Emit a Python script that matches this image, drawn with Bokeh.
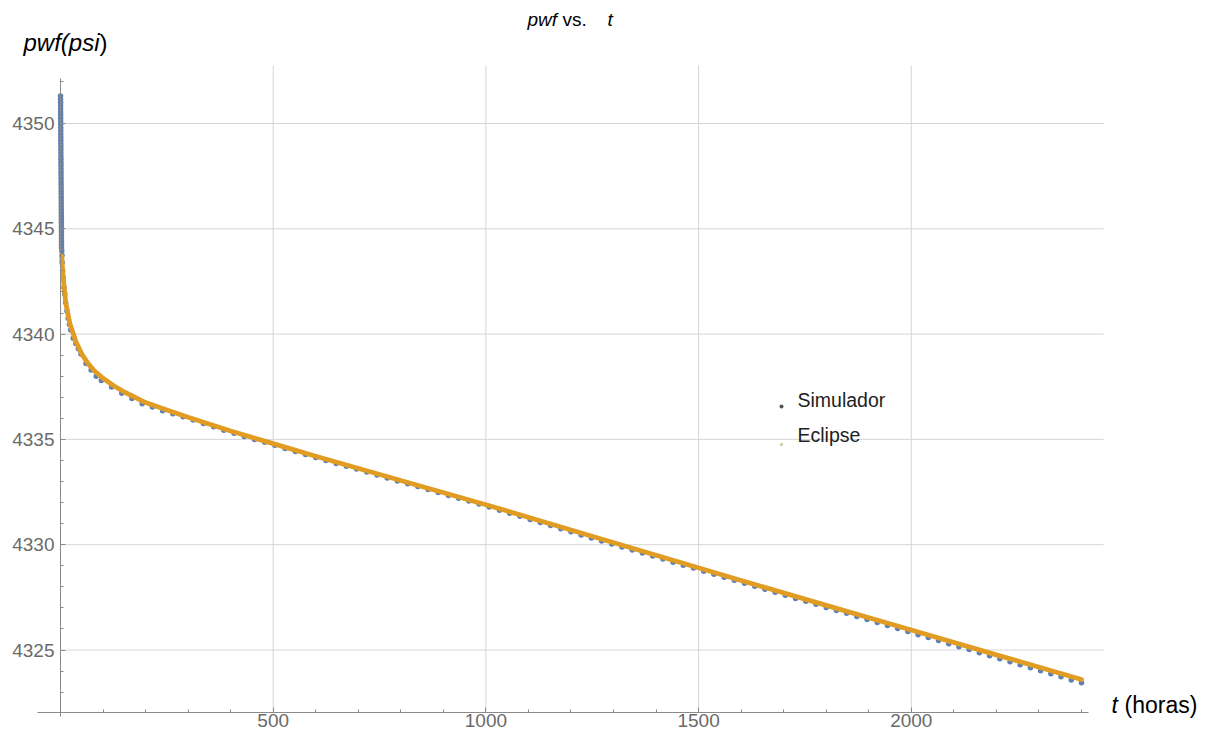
from bokeh.plotting import figure
from bokeh.models import Range1d, FixedTicker, Label
from bokeh.embed import file_html
from bokeh.resources import INLINE

# ---------------- data ----------------
# Simulador: very fine early steps (vertical column near t = 0), then daily (24 h) steps
sim_t_early = [0.05, 0.1, 0.15, 0.2, 0.25, 0.3, 0.35, 0.4, 0.45, 0.5, 0.55, 0.6, 0.65, 0.7,
               0.75, 0.8, 0.85, 0.9, 0.95, 1.0, 1.05, 1.1, 1.15, 1.2, 1.25, 1.3, 1.35, 1.4,
               1.45, 1.5, 1.55, 1.6, 1.65, 1.7, 1.75, 1.8, 1.85, 1.9, 1.95, 2.0, 2.05, 2.1,
               2.15, 2.2, 2.25, 2.3, 2.35, 2.4, 2.45,
               3.0, 3.5, 4, 5, 6, 8, 10, 12, 15, 18, 21, 24, 30, 36, 42, 48, 60, 72, 84, 96]
sim_p_early = [4351.3, 4351.15, 4351.0, 4350.85, 4350.7, 4350.55, 4350.4, 4350.25, 4350.1,
               4349.95, 4349.8, 4349.65, 4349.5, 4349.35, 4349.2, 4349.05, 4348.9, 4348.75,
               4348.6, 4348.45, 4348.3, 4348.15, 4348.0, 4347.85, 4347.7, 4347.55, 4347.4,
               4347.25, 4347.1, 4346.95, 4346.8, 4346.65, 4346.5, 4346.35, 4346.2, 4346.05,
               4345.9, 4345.75, 4345.6, 4345.45, 4345.3, 4345.15, 4345.0, 4344.85, 4344.7,
               4344.55, 4344.4, 4344.25, 4344.1,
               4343.95, 4343.75, 4343.4, 4343.0, 4342.7, 4342.2, 4341.9, 4341.5, 4341.1,
               4340.75, 4340.45, 4340.2, 4339.8, 4339.55, 4339.3, 4339.05, 4338.6, 4338.3,
               4338.0, 4337.8]
sim_t_daily = list(range(120, 2401, 24))
sim_p_daily = [4337.49, 4337.19, 4336.94, 4336.69, 4336.54, 4336.36, 4336.22, 4336.07,
               4335.92, 4335.76, 4335.60, 4335.44, 4335.29, 4335.14, 4335.00, 4334.86,
               4334.72, 4334.57, 4334.43, 4334.28, 4334.14,
               4334.00, 4333.86, 4333.72, 4333.59, 4333.45, 4333.31, 4333.17, 4333.03,
               4332.90, 4332.76, 4332.62, 4332.48, 4332.34, 4332.21, 4332.07, 4331.93,
               4331.79,
               4331.64, 4331.49, 4331.35, 4331.20, 4331.05, 4330.91, 4330.76, 4330.61,
               4330.46, 4330.32, 4330.18, 4330.03, 4329.89, 4329.75, 4329.60, 4329.46,
               4329.32, 4329.17, 4329.03, 4328.89, 4328.74, 4328.60, 4328.46, 4328.31,
               4328.17, 4328.03, 4327.88, 4327.74, 4327.60, 4327.45, 4327.31, 4327.17,
               4327.02, 4326.88, 4326.74, 4326.59, 4326.45, 4326.31, 4326.16, 4326.02,
               4325.88, 4325.73, 4325.59, 4325.45, 4325.30, 4325.16, 4325.02, 4324.87,
               4324.73, 4324.59, 4324.44, 4324.30, 4324.16, 4324.01, 4323.87, 4323.73,
               4323.58, 4323.44]
sim_t = sim_t_early + sim_t_daily
sim_p = sim_p_early + sim_p_daily

# Eclipse
ecl_t = [3, 4, 6, 8, 12, 16, 22, 28, 36, 50, 65, 80, 100, 125, 150, 200, 250, 300, 400,
         500, 600, 800, 1000, 1200, 1400, 1600, 1800, 2000, 2200, 2400]
ecl_p = [4343.7, 4343.3, 4342.8, 4342.35, 4341.55, 4341.1, 4340.5, 4340.15, 4339.65,
         4339.05, 4338.6, 4338.25, 4337.9, 4337.55, 4337.25, 4336.75, 4336.4, 4336.05,
         4335.4, 4334.8, 4334.2, 4333.05, 4331.9, 4330.7, 4329.5, 4328.3, 4327.12,
         4325.95, 4324.77, 4323.6]

x_ticks = [500, 1000, 1500, 2000]
x_minor = list(range(100, 2401, 100))
y_ticks = [4325, 4330, 4335, 4340, 4345, 4350]
y_minor = list(range(4323, 4353))

series_names = ["Simulador", "Eclipse"]

# ---------------- layout helpers (page pixel -> data) ----------------
FONT = "Liberation Sans"
X0, KX = 60.0, 212.7 / 500.0
Y0, KY = 123.0, 105.3 / 5.0
W, H = 1204, 732


def X(px):
    return (px - X0) / KX


def Y(py):
    return 4350 + (Y0 - py) / KY


# the frame covers the whole canvas; axes are drawn at fixed locations inside it
p = figure(width=W, height=H, output_backend="svg", toolbar_location=None,
           x_range=Range1d(X(0), X(W)), y_range=Range1d(Y(H), Y(0)),
           min_border=0, min_border_left=0, min_border_right=0, min_border_top=0,
           min_border_bottom=0)
p.title.visible = False
p.outline_line_color = None
p.background_fill_color = "white"
p.xgrid.visible = False
p.ygrid.visible = False

# grid lines (limited to the plot region, as in the reference)
GRID = "#d6d6d6"
p.segment(x0=x_ticks, y0=[Y(712)] * len(x_ticks), x1=x_ticks, y1=[Y(65)] * len(x_ticks),
          line_color=GRID, line_width=1)
p.segment(x0=[0] * len(y_ticks), y0=y_ticks, x1=[X(1103)] * len(y_ticks), y1=y_ticks,
          line_color=GRID, line_width=1)

# axes
xa, ya = p.xaxis[0], p.yaxis[0]
xa.fixed_location = Y(712)
ya.fixed_location = 0
xa.bounds = (X(37), X(1088))
ya.bounds = (Y(716), Y(78))
xa.ticker = FixedTicker(ticks=x_ticks, minor_ticks=x_minor)
ya.ticker = FixedTicker(ticks=y_ticks, minor_ticks=y_minor)
for ax in (xa, ya):
    ax.axis_line_color = "#8a8a8a"
    ax.axis_line_width = 1
    ax.major_tick_line_color = "#8a8a8a"
    ax.minor_tick_line_color = "#8a8a8a"
    ax.major_tick_in = 5
    ax.major_tick_out = 0
    ax.minor_tick_in = 3
    ax.minor_tick_out = 0
    ax.major_label_text_font = FONT
    ax.major_label_text_font_size = "19px"
    ax.major_label_text_color = "#6a6a6a"
xa.major_label_standoff = 1
ya.major_label_standoff = 6

# series
p.scatter(sim_t, sim_p, size=5.5, color="#5E81B5", line_color=None)
p.line(ecl_t, ecl_p, line_width=4.8, color="#E19C24", line_join="round", line_cap="round")

# legend (manual)
p.scatter([X(781)], [Y(406)], size=4, color="#555555", line_color=None)
p.scatter([X(781)], [Y(444)], size=3.5, color="#cfd3a0", line_color=None)
p.add_layout(Label(x=X(797), y=Y(410), text=series_names[0], text_font=FONT,
                   text_font_size="19.5px", text_color="#1e1e1e"))
p.add_layout(Label(x=X(797), y=Y(445.5), text=series_names[1], text_font=FONT,
                   text_font_size="19.5px", text_color="#1e1e1e"))

# title
p.add_layout(Label(x=X(527), y=Y(29), text="pwf", text_font=FONT, text_font_size="19px",
                   text_font_style="italic", text_color="black"))
p.add_layout(Label(x=X(562), y=Y(29), text="vs.", text_font=FONT, text_font_size="19px",
                   text_color="black"))
p.add_layout(Label(x=X(607), y=Y(29), text="t", text_font=FONT, text_font_size="19px",
                   text_font_style="italic", text_color="black"))

# y axis label
p.add_layout(Label(x=X(23), y=Y(55), text="pwf(psi", text_font=FONT, text_font_size="24px",
                   text_font_style="italic", text_color="black"))
p.add_layout(Label(x=X(99), y=Y(55), text=")", text_font=FONT, text_font_size="24px",
                   text_color="black"))

# x axis label
p.add_layout(Label(x=X(1111), y=Y(717), text="t", text_font=FONT, text_font_size="23px",
                   text_font_style="italic", text_color="black"))
p.add_layout(Label(x=X(1124), y=Y(717), text="(horas)", text_font=FONT, text_font_size="23px",
                   text_color="black"))

open("out.html", "w").write(file_html(p, INLINE))
